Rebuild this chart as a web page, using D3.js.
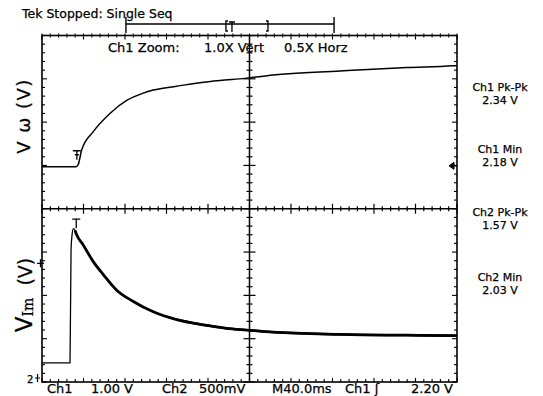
<!DOCTYPE html>
<html>
<head>
<meta charset="utf-8">
<script src="https://cdn.jsdelivr.net/npm/d3@7"></script>
<style>
  body { margin: 0; background: #fff; }
  svg text { font-family: "DejaVu Sans", sans-serif; fill: #000; stroke: #000; stroke-width: 0.25px; }
</style>
</head>
<body>
<div id="scope"></div>
<script>
// scope trace, time in ms (M40.0ms/div), volts
var ch1_t = [0, 32.8, 34.7, 38.3, 49.4, 65.5, 81.6, 97.6, 107.3, 129.8, 152.3, 171.6, 195.7, 222.7, 287.2, 351.8, 396.1, 400];
var ch1_v = [2.18, 2.18, 2.22, 2.57, 2.99, 3.41, 3.71, 3.88, 3.95, 4.04, 4.12, 4.17, 4.22, 4.30, 4.39, 4.47, 4.51, 4.52];

var ch2_t = [0, 27.0, 28.0, 28.9, 30.2, 31.8, 33.4, 39.8, 49.4, 59.1, 72.0, 88.0, 107.3, 129.8, 155.5, 178.0, 197.3, 222.7, 287.2, 351.8, 396.1, 400];
var ch2_v = [2.03, 2.03, 3.34, 3.50, 3.58, 3.56, 3.51, 3.39, 3.20, 3.05, 2.87, 2.74, 2.62, 2.53, 2.47, 2.43, 2.41, 2.385, 2.36, 2.35, 2.346, 2.345];

var readouts = [["Ch1 Pk-Pk", "2.34 V"], ["Ch1 Min", "2.18 V"], ["Ch2 Pk-Pk", "1.57 V"], ["Ch2 Min", "2.03 V"]];
var bottom_labels = ["Ch1", "1.00 V", "Ch2", "500mV", "M40.0ms", "Ch1 \u0283", "2.20 V"];

var W = 543, H = 396;
var m = {left: 42, right: 457, top: 35.5, bottom: 382};
var mid = (m.top + m.bottom) / 2;

var svg = d3.select("#scope").append("svg")
  .attr("width", W).attr("height", H);

// scales
var x = d3.scaleLinear().domain([0, 400]).range([m.left, m.right]);
var div = d3.scaleLinear().domain([0, 8]).range([m.bottom, m.top]);   // screen divisions
var y1 = d3.scaleLinear().domain([1.21, 5.21]).range([mid, m.top]);  // 1 V/div
var y2 = d3.scaleLinear().domain([1.81, 3.81]).range([m.bottom, mid]); // 500mV/div

var g = svg.append("g").attr("stroke", "#000").attr("fill", "none");

// frame
g.append("rect").attr("x", m.left).attr("y", m.top)
  .attr("width", m.right - m.left).attr("height", m.bottom - m.top)
  .attr("stroke-width", 1.6);

// center cross
var cx = x(200);
g.append("line").attr("x1", cx).attr("x2", cx).attr("y1", m.top).attr("y2", m.bottom).attr("stroke-width", 1.5);
g.append("line").attr("x1", m.left).attr("x2", m.right).attr("y1", mid).attr("y2", mid).attr("stroke-width", 1.5);

// horizontal tick marks (every 8ms, major every 40ms)
var tx = d3.range(0, 401, 8);
tx.forEach(function(t) {
  var major = t % 40 === 0;
  var px = x(t);
  var l = major ? 5 : 2.5;
  g.append("line").attr("x1", px).attr("x2", px).attr("y1", mid - l).attr("y2", mid + l).attr("stroke-width", 1.2);
  g.append("line").attr("x1", px).attr("x2", px).attr("y1", m.top - 2).attr("y2", m.top + (major ? 4 : 2)).attr("stroke-width", 1.1);
  g.append("line").attr("x1", px).attr("x2", px).attr("y1", m.bottom).attr("y2", m.bottom - (major ? 4 : 3)).attr("stroke-width", 1.1);
});

// vertical tick marks (5 per division)
var ty = d3.range(0, 8.01, 0.2);
ty.forEach(function(d) {
  var major = Math.abs(d - Math.round(d)) < 0.01;
  var py = div(d);
  var l = major ? 6 : 3;
  g.append("line").attr("x1", cx - l).attr("x2", cx + l).attr("y1", py).attr("y2", py).attr("stroke-width", 1.2);
  g.append("line").attr("x1", m.left).attr("x2", m.left + (major ? 5 : 3)).attr("y1", py).attr("y2", py).attr("stroke-width", 1.1);
  g.append("line").attr("x1", m.right).attr("x2", m.right - (major ? 5 : 3)).attr("y1", py).attr("y2", py).attr("stroke-width", 1.1);
});

// traces
var line1 = d3.line().x(function(d) { return x(d[0]); }).y(function(d) { return y1(d[1]); }).curve(d3.curveMonotoneX);
var line2 = d3.line().x(function(d) { return x(d[0]); }).y(function(d) { return y2(d[1]); }).curve(d3.curveMonotoneX);

var ch1 = ch1_t.map(function(t, i) { return [t, ch1_v[i]]; });
var ch2 = ch2_t.map(function(t, i) { return [t, ch2_v[i]]; });

g.append("path").attr("d", line1(ch1)).attr("stroke-width", 1.5);
g.append("path").attr("d", line2(ch2)).attr("stroke-width", 1.3);
// noisy decay drawn heavier
g.append("path").attr("d", line2(ch2.slice(5))).attr("stroke-width", 2.8);
g.append("path").attr("d", line2(ch2.slice(13))).attr("stroke-width", 2.2);

// trigger markers
var tp = x(33.6);
g.append("path").attr("d", "M" + (tp - 4) + "," + (y1(2.18) - 16) + "h8M" + tp + "," + (y1(2.18) - 16) + "v9M" + (tp - 2) + "," + (y1(2.18) - 12) + "h4")
  .attr("stroke-width", 1.3);
var tq = x(33);
g.append("path").attr("d", "M" + (tq - 4) + "," + (y2(3.69)) + "h8M" + tq + "," + y2(3.69) + "v9")
  .attr("stroke-width", 1.3);

// ch1 trigger level arrow on right
var ly = y1(2.20);
g.append("path").attr("d", "M" + (m.right - 8) + "," + ly + "l5,-3.5v7z").attr("fill", "#000").attr("stroke-width", 1);
g.append("line").attr("x1", m.right - 4).attr("x2", m.right).attr("y1", ly).attr("y2", ly).attr("stroke-width", 1.3);

// left markers
g.append("path").attr("d", "M37," + y2(3.18) + "h7M40.5," + (y2(3.18) - 4) + "v8").attr("stroke-width", 1.3);
g.append("path").attr("d", "M35,378h5M37.5,374v8").attr("stroke-width", 1.2);
svg.append("text").attr("x", 27).attr("y", 383).style("font-size", "10px").text("2");

// record bar above screen
var bx0 = x(80.9), bx1 = x(281.5);
g.append("line").attr("x1", bx0).attr("x2", bx1).attr("y1", 24).attr("y2", 24).attr("stroke-width", 1.4);
g.append("line").attr("x1", bx0).attr("x2", bx0).attr("y1", 17).attr("y2", 33).attr("stroke-width", 1.4);
g.append("line").attr("x1", bx1).attr("x2", bx1).attr("y1", 17).attr("y2", 33).attr("stroke-width", 1.4);
var k0 = x(177.3), k1 = x(217.8);
g.append("path").attr("d", "M" + (k0 + 2) + ",21h-2v10h2M" + (k1 - 2) + ",21h2v10h-2").attr("stroke-width", 1.3);
g.append("path").attr("d", "M" + (k0 + 3) + ",22h6M" + (k0 + 6) + ",22v10").attr("stroke-width", 1.3);

// header
svg.append("text").attr("x", 22).attr("y", 18).style("font-size", "12.5px").text("Tek Stopped: Single Seq");

// zoom line
svg.append("text").attr("x", 108).attr("y", 52).style("font-size", "13px").text("Ch1 Zoom:");
svg.append("text").attr("x", 204).attr("y", 52).style("font-size", "13px").text("1.0X Vert");
svg.append("text").attr("x", 284).attr("y", 52).style("font-size", "13px").text("0.5X Horz");

// readouts
var ry = [[91, 104], [153, 166], [216, 229], [281, 294]];
readouts.forEach(function(r, i) {
  svg.append("text").attr("x", 500).attr("y", ry[i][0]).attr("text-anchor", "middle").style("font-size", "11px").text(r[0]);
  svg.append("text").attr("x", 500).attr("y", ry[i][1]).attr("text-anchor", "middle").style("font-size", "11px").text(r[1]);
});

// bottom status
var bxs = [47, 91, 162, 199, 272, 345, 411];
bottom_labels.forEach(function(s, i) {
  svg.append("text").attr("x", bxs[i]).attr("y", 393).style("font-size", "13px").text(s);
});

// axis labels
svg.append("text")
  .attr("transform", "translate(30," + 116 + ") rotate(-90)")
  .attr("text-anchor", "middle")
  .style("font-size", "18px")
  .style("letter-spacing", "1.5px")
  .text("V \u03c9 (V)");

var lab2 = svg.append("text")
  .attr("transform", "translate(32," + 295 + ") rotate(-90)")
  .attr("text-anchor", "middle");
lab2.append("tspan").style("font-size", "23px").text("V");
lab2.append("tspan").attr("dy", 1).style("font-size", "14px").style("font-family", "DejaVu Serif").text("Im");
lab2.append("tspan").attr("dy", -1).style("font-size", "19px").text("\u00a0 (V)");
</script>
</body>
</html>
